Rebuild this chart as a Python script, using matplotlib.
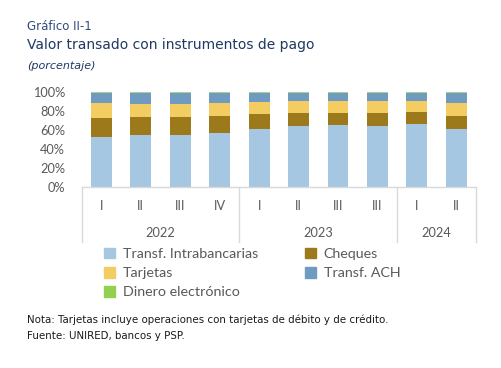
import matplotlib
matplotlib.use("Agg")
import matplotlib.pyplot as plt
import matplotlib.patches as mpatches
import matplotlib.transforms as mtransforms
import numpy as np

quarters = ["I", "II", "III", "IV", "I", "II", "III", "III", "I", "II"]
years = ["2022", "2023", "2024"]
year_counts = [4, 4, 2]

series_names = ["Transf. Intrabancarias", "Cheques", "Tarjetas", "Transf. ACH", "Dinero electrónico"]
intra = [53.0, 54.4, 55.0, 56.5, 61.0, 64.5, 65.3, 64.0, 66.6, 61.0]
cheques = [20.0, 19.6, 19.0, 18.2, 16.0, 13.5, 13.0, 14.0, 12.7, 14.0]
tarjetas = [15.7, 13.7, 13.7, 14.0, 13.0, 13.0, 12.7, 13.0, 11.7, 13.7]
ach = [10.6, 11.6, 11.6, 10.6, 9.3, 8.3, 8.3, 8.3, 8.3, 10.6]
dinero = [0.7, 0.7, 0.7, 0.7, 0.7, 0.7, 0.7, 0.7, 0.7, 0.7]

colors = ["#A6C7E1", "#9C7A1B", "#F4CD62", "#6E9BBF", "#A9D18E"]
legend_colors = ["#A6C7E1", "#9C7A1B", "#F4CD62", "#6E9BBF", "#92D050"]

W, H = 501, 368
fig = plt.figure(figsize=(W / 100, H / 100), dpi=100)

def fx(px):
    return px / W

def fy(py):
    return 1 - py / H

ax_left, ax_right, ax_top, ax_bottom = 81.7, 476.0, 92.0, 187.0
ax = fig.add_axes([fx(ax_left), fy(ax_bottom), fx(ax_right - ax_left), (ax_bottom - ax_top) / H])

x = np.arange(len(quarters))
data = [intra, cheques, tarjetas, ach, dinero]
bottom = np.zeros(len(x))
for vals, c in zip(data, colors):
    v = np.array(vals)
    ax.bar(x, v, 0.53, bottom=bottom, color=c, edgecolor="none", clip_on=False)
    bottom += v

tick_fs = 9.2
ax.set_xlim(-0.5, len(x) - 0.5)
ax.set_ylim(0, 100)
ax.set_yticks([0, 20, 40, 60, 80, 100])
ax.set_yticklabels([f"{t}%" for t in [0, 20, 40, 60, 80, 100]], fontsize=tick_fs,
                   color="#595959", family="Lato")
ax.tick_params(axis="y", length=0, pad=12)
ax.set_xticks([])
for s in ["top", "right", "left", "bottom"]:
    ax.spines[s].set_visible(False)

trans = mtransforms.blended_transform_factory(ax.transData, ax.transAxes)
line_c = "#D9D9D9"
depth = -(242 - 187) / 95
ax.plot([-0.5, len(x) - 0.5], [0, 0], color=line_c, lw=1, transform=trans, clip_on=False)
bounds = [-0.5]
acc = -0.5
for n in year_counts:
    acc += n
    bounds.append(acc)
for b in bounds:
    ax.plot([b, b], [0, depth], color=line_c, lw=1, transform=trans, clip_on=False)

qy = -(206 - 187) / 95
yy = -(233 - 187) / 95
for i, q in enumerate(quarters):
    ax.text(i, qy, q, transform=trans, ha="center", va="center", fontsize=tick_fs,
            color="#595959", family="Lato")
start = 0
for yr, n in zip(years, year_counts):
    ax.text(start + (n - 1) / 2, yy, yr, transform=trans, ha="center", va="center",
            fontsize=tick_fs, color="#595959", family="Lato")
    start += n

handles = [mpatches.Patch(color=legend_colors[i], label=series_names[i]) for i in range(5)]
order = [0, 2, 4, 1, 3]
leg = fig.legend([handles[i] for i in order], [series_names[i] for i in order],
                 ncol=2, loc="upper left", bbox_to_anchor=(fx(104), fy(248)),
                 frameon=False, prop={"family": "Lato", "size": 10.3},
                 handlelength=0.75, handleheight=0.75, handletextpad=0.55,
                 columnspacing=3.3, labelspacing=0.48, borderaxespad=0, borderpad=0)
for t in leg.get_texts():
    t.set_color("#595959")

title_c = "#1F3864"
fig.text(fx(27), fy(27), "Gráfico II-1", fontsize=8.5, color="#2F4A7F", va="center",
         family="DejaVu Sans")
fig.text(fx(27), fy(45), "Valor transado con instrumentos de pago", fontsize=10,
         color=title_c, va="center", family="DejaVu Sans", weight="medium")
fig.text(fx(27), fy(66), "(porcentaje)", fontsize=8, color=title_c, va="center",
         style="italic", family="DejaVu Sans")
fig.text(fx(27), fy(320), "Nota: Tarjetas incluye operaciones con tarjetas de débito y de crédito.",
         fontsize=7.35, color="#1A1A1A", va="center", family="DejaVu Sans")
fig.text(fx(27), fy(336), "Fuente: UNIRED, bancos y PSP.",
         fontsize=7.35, color="#1A1A1A", va="center", family="DejaVu Sans")

fig.savefig("out.png", dpi=100)
